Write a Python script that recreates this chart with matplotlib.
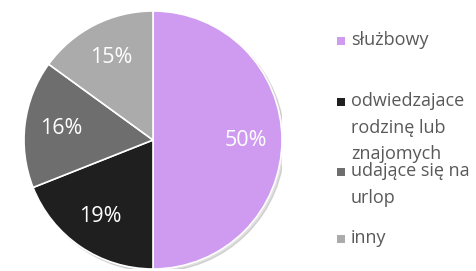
import matplotlib.pyplot as plt
from matplotlib.patches import Circle

categories = ['służbowy', 'odwiedzajace\nrodzinę lub\nznajomych', 'udające się na\nurlop', 'inny']
shares = [50, 19, 16, 15]
colors = ['#CF9BF0', '#1F1F1F', '#6E6E6E', '#ABABAB']

plt.rcParams['font.family'] = ['Open Sans', 'DejaVu Sans']

W, H = 477, 271
fig = plt.figure(figsize=(W / 100, H / 100), dpi=100)

# pie axes: centre (153, 140) px, radius 129 px
cx, cy, r = 153, 140, 129
ax = fig.add_axes([(cx - r) / W, (H - cy - r) / H, 2 * r / W, 2 * r / H])

# faint shadow behind the pie
ax.add_patch(Circle((0.02, -0.02), 1.0, color='#000000', alpha=0.12, zorder=0))

wedges, texts, autotexts = ax.pie(
    shares, colors=colors, startangle=90, counterclock=False,
    autopct='%d%%', pctdistance=0.72, radius=1.0,
    wedgeprops=dict(edgecolor='white', linewidth=1.2),
    textprops=dict(color='white', fontsize=15.5))
for w in wedges:
    w.set_zorder(2)
for t in autotexts:
    t.set_zorder(3)
ax.set_xlim(-1, 1)
ax.set_ylim(-1, 1)
ax.set_aspect('equal')
ax.axis('off')

# legend drawn by hand to match the original spacing
legend_y = [41, 102, 172, 239]
for lab, col, y in zip(categories, colors, legend_y):
    fig.patches.append(plt.Rectangle(((341 - 4) / W, (H - y - 4) / H), 8 / W, 8 / H,
                                     transform=fig.transFigure, facecolor=col, edgecolor='none'))
    fig.text(351 / W, (H - y + 10) / H, lab, ha='left', va='top', fontsize=13,
             color='#595959', linespacing=1.62)

fig.savefig('out.png', dpi=100)
